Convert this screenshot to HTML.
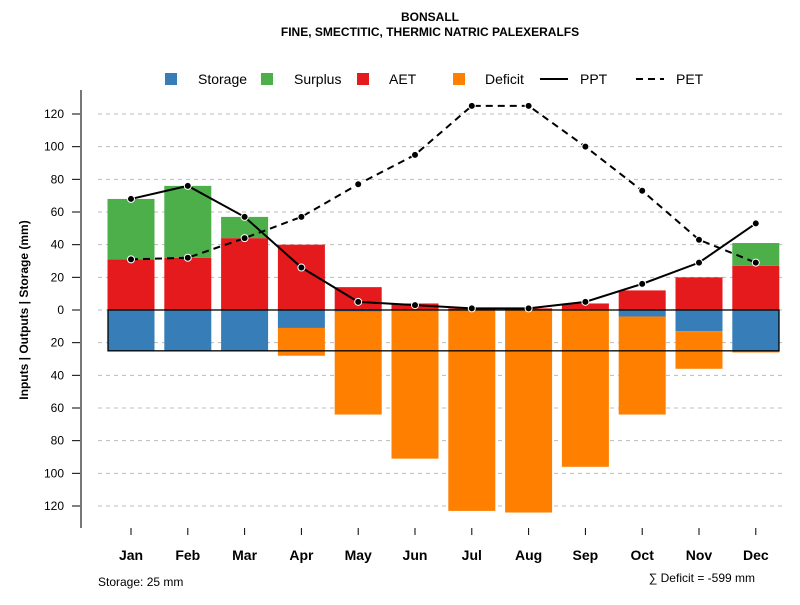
<!DOCTYPE html>
<html><head><meta charset="utf-8"><style>
body{margin:0;background:#fff;font-family:"Liberation Sans",sans-serif}
svg text{font-family:"Liberation Sans",sans-serif}
</style></head><body>
<svg id="c" width="800" height="600" viewBox="0 0 800 600">
<text x="430" y="21" text-anchor="middle" font-size="12" font-weight="bold">BONSALL</text>
<text x="430" y="36" text-anchor="middle" font-size="12" font-weight="bold">FINE, SMECTITIC, THERMIC NATRIC PALEXERALFS</text>
<g font-size="14">
<rect x="165" y="73" width="12" height="12" fill="#377eb8"/>
<text x="198" y="84">Storage</text>
<rect x="261" y="73" width="12" height="12" fill="#4daf4a"/>
<text x="294" y="84">Surplus</text>
<rect x="357" y="73" width="12" height="12" fill="#e41a1c"/>
<text x="389" y="84">AET</text>
<rect x="453" y="73" width="12" height="12" fill="#ff7f00"/>
<text x="485" y="84">Deficit</text>
<line x1="540" y1="79" x2="568" y2="79" stroke="#000" stroke-width="2"/>
<text x="580" y="84">PPT</text>
<line x1="636" y1="79" x2="664" y2="79" stroke="#000" stroke-width="2" stroke-dasharray="7,5"/>
<text x="676" y="84">PET</text>
</g>
<text transform="translate(28,310) rotate(-90)" text-anchor="middle" font-size="12" font-weight="bold">Inputs | Outputs | Storage    (mm)</text>
<text x="98" y="586" font-size="12">Storage: 25 mm</text>
<text x="755" y="582" text-anchor="end" font-size="12">∑ Deficit = -599 mm</text>
<g id="plot"></g>
</svg>
<script>
const months=["Jan","Feb","Mar","Apr","May","Jun","Jul","Aug","Sep","Oct","Nov","Dec"];
const aet=[31,32,44,40,14,4,1,1,4,12,20,27];
const surplus=[37,44,13,0,0,0,0,0,0,0,0,14];
const storage=[25,25,25,11,1,0,0,0,0,4,13,25];
const deficit=[0,0,0,17,63,91,123,124,96,60,23,1];
const ppt=[68,76,57,26,5,3,1,1,5,16,29,53];
const pet=[31,32,44,57,77,95,125,125,100,73,43,29];
const yTicks=[-120,-100,-80,-60,-40,-20,0,20,40,60,80,100,120];
const capacity=25;
const NS="http://www.w3.org/2000/svg";
const g=document.getElementById('plot');
const y=v=>310-v*1.6333;
const x=i=>131+i*56.8;
const bw=47;
function el(t,a){const e=document.createElementNS(NS,t);for(const k in a)e.setAttribute(k,a[k]);g.appendChild(e);return e;}
yTicks.forEach(t=>{
 const gl=el('line',{x1:98,x2:785,y1:y(t),y2:y(t),stroke:'#bbb','stroke-dasharray':'4,4'});
 
 
 const tk=el('line',{x1:72,x2:81,y1:y(t),y2:y(t),stroke:'#000'});
 
 
 const tx=el('text',{x:64,y:y(t)+4,'text-anchor':'end','font-size':12});
 tx.textContent=Math.abs(t);
 
 
});
const ax=el('line',{x1:81,x2:81,y1:90,y2:528,stroke:'#777','stroke-width':2});


months.forEach((m,i)=>{
 const cx=x(i);
 function bar(v0,v1,c,n){if(v1===v0)return;const r=el('rect',{x:cx-bw/2,y:Math.min(y(v0),y(v1)),width:bw,height:Math.abs(y(v0)-y(v1)),fill:c});
  
  }
 bar(0,aet[i],'#e41a1c','aet-bar-'+m.toLowerCase());
 bar(aet[i],aet[i]+surplus[i],'#4daf4a','surplus-bar-'+m.toLowerCase());
 bar(0,-storage[i],'#377eb8','storage-bar-'+m.toLowerCase());
 bar(-storage[i],-storage[i]-deficit[i],'#ff7f00','deficit-bar-'+m.toLowerCase());
 const tk=el('line',{x1:cx,x2:cx,y1:528,y2:535,stroke:'#000'});
 
 
 const tx=el('text',{x:cx,y:560,'text-anchor':'middle','font-size':14,'font-weight':'bold'});
 tx.textContent=m;
 
 
});
const cap=el('rect',{x:108,y:y(0),width:671,height:y(-capacity)-y(0),fill:'none',stroke:'#000','stroke-width':1.3});


function line(arr,n,dash){
 const p=el('path',{d:arr.map((v,i)=>(i?'L':'M')+x(i)+','+y(v)).join(''),fill:'none',stroke:'#000','stroke-width':2,'stroke-dasharray':dash});
 
 
 arr.forEach((v,i)=>{const c=el('circle',{cx:x(i),cy:y(v),r:3.5,fill:'#000',stroke:'#fff','stroke-width':1});
  
  });
}
line(ppt,'ppt','none');
line(pet,'pet','7,5');
</script>
</body></html>
